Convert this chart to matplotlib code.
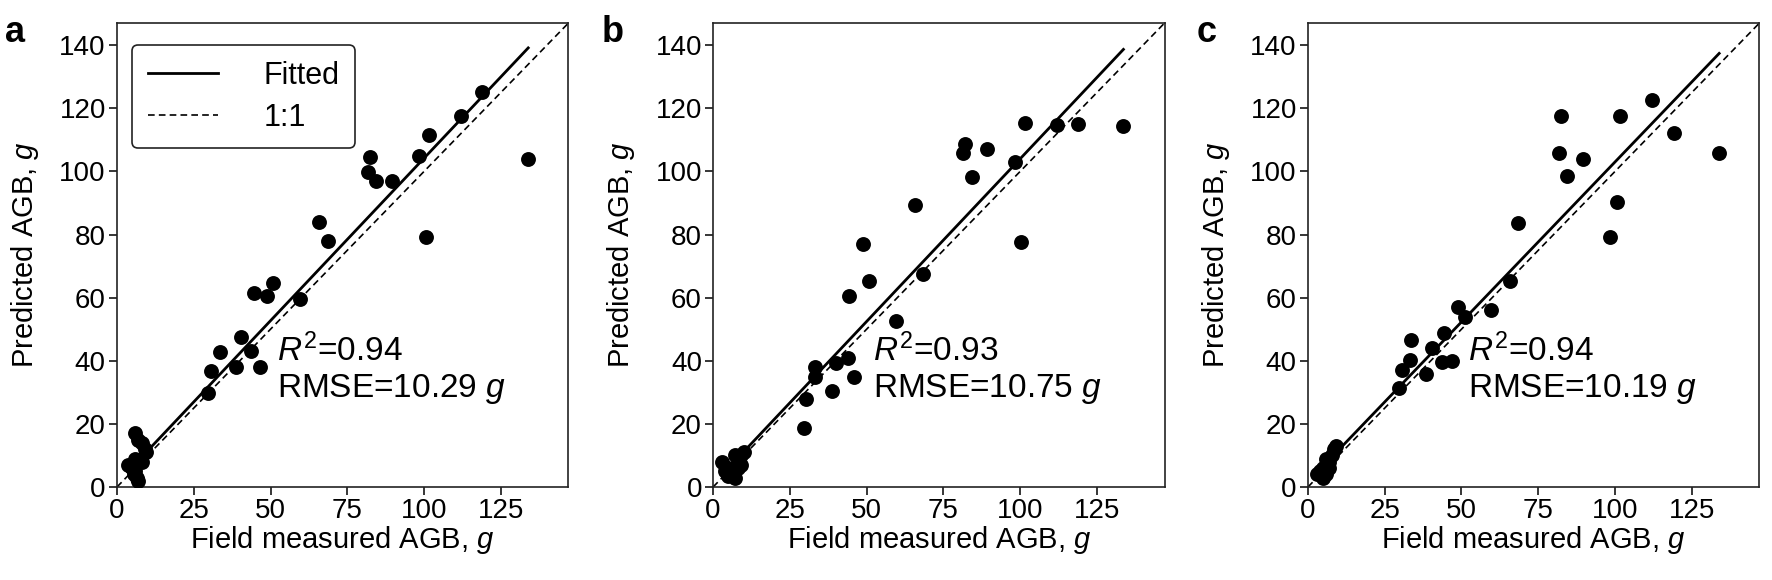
import numpy as np
import matplotlib
matplotlib.use("Agg")
import matplotlib.pyplot as plt

plt.rcParams['font.family'] = ['Liberation Sans', 'DejaVu Sans']
plt.rcParams['mathtext.fontset'] = 'custom'
plt.rcParams['mathtext.rm'] = 'Liberation Sans'
plt.rcParams['mathtext.it'] = 'Liberation Sans:italic'

# panel a
field_a = [119.0, 111.9, 101.7, 98.4, 82.4, 81.8, 84.3, 89.5, 65.9, 68.6, 100.6, 133.9,
           50.7, 44.7, 49.0, 59.6, 40.4, 33.5, 43.8, 30.5, 38.7, 46.5, 29.7,
           6.0, 7.0, 8.0, 9.0, 9.5, 3.5, 5.0, 6.0, 6.5, 7.0, 5.5, 6.0, 8.0]
pred_a = [125.2, 117.5, 111.5, 104.8, 104.4, 99.7, 97.0, 96.9, 84.0, 78.0, 79.3, 103.8,
          64.5, 61.6, 60.5, 59.6, 47.4, 42.9, 43.2, 36.8, 38.1, 38.1, 29.9,
          17.0, 15.0, 14.0, 12.0, 11.0, 7.0, 6.0, 5.0, 3.0, 2.0, 4.0, 9.0, 8.0]

# panel b
field_b = [101.6, 111.9, 118.9, 133.6, 82.0, 81.5, 89.3, 98.3, 84.2, 65.8, 48.7, 100.3,
           50.9, 68.5, 44.4, 59.5, 44.0, 40.0, 33.2, 33.2, 38.6, 46.0, 30.3, 29.7,
           3.0, 5.0, 6.0, 7.0, 8.0, 9.0, 10.0, 7.0, 8.0, 5.0, 4.0, 9.0]
pred_b = [115.2, 114.7, 115.0, 114.3, 108.6, 105.9, 107.0, 103.0, 98.3, 89.3, 77.0, 77.7,
          65.4, 67.5, 60.5, 52.6, 40.8, 39.4, 37.9, 34.7, 30.5, 34.9, 27.9, 18.8,
          8.0, 6.0, 4.0, 3.0, 6.0, 10.0, 11.0, 10.0, 8.0, 3.5, 5.0, 7.0]

# panel c
field_c = [82.3, 101.6, 111.9, 119.1, 81.8, 89.4, 84.2, 100.5, 98.3, 68.5, 133.9,
           65.8, 48.9, 51.1, 59.5, 44.4, 40.3, 33.5, 33.2, 30.5, 43.8, 46.8, 38.6, 29.7,
           3.0, 4.0, 5.0, 6.0, 7.0, 8.0, 8.5, 9.0, 6.0, 5.0, 7.0]
pred_c = [117.6, 117.6, 122.6, 112.2, 105.7, 103.8, 98.5, 90.2, 79.3, 83.5, 105.7,
          65.4, 56.9, 54.0, 56.1, 48.7, 44.2, 46.6, 40.4, 37.1, 39.7, 40.0, 35.8, 31.3,
          4.0, 5.0, 6.0, 4.0, 8.0, 10.0, 12.0, 13.0, 9.0, 3.0, 6.0]

# fitted line (slope, intercept)
fit_a = (1.03, 1.2)
fit_b = (1.031, 0.9)
fit_c = (1.014, 1.6)

r2_vals = ['0.94', '0.93', '0.94']
rmse_vals = ['10.29', '10.75', '10.19']
panel_letters = ['a', 'b', 'c']

x_ticks = [0, 25, 50, 75, 100, 125]
y_ticks = [0, 20, 40, 60, 80, 100, 120, 140]
lim = 147

fig = plt.figure(figsize=(17.72, 5.8), dpi=100)
lefts = [0.066, 0.4024, 0.7381]
panels = [(field_a, pred_a, fit_a), (field_b, pred_b, fit_b), (field_c, pred_c, fit_c)]

for i, (fx, py, fit) in enumerate(panels):
    ax = fig.add_axes([lefts[i], 0.1603, 0.2548, 0.8])
    ax.scatter(fx, py, s=115, color='black', zorder=3, linewidths=0)
    xs = np.array([min(fx), max(fx)])
    ax.plot(xs, fit[0] * xs + fit[1], color='black', lw=2.0, label='Fitted')
    ax.plot([0, lim], [0, lim], color='black', lw=1.2, ls=(0, (4, 2.5)), label='1:1')
    ax.set_xlim(0, lim)
    ax.set_ylim(0, lim)
    ax.set_xticks(x_ticks)
    ax.set_yticks(y_ticks)
    ax.tick_params(labelsize=20, length=6, width=1.1, direction='out', pad=2)
    for sp in ax.spines.values():
        sp.set_linewidth(1.2)
        sp.set_color('#222222')
    ax.set_xlabel('Field measured AGB, $g$', fontsize=21, labelpad=0)
    ax.set_ylabel('Predicted AGB, $g$', fontsize=21, labelpad=13)
    ax.text(52, 43, '$R^2$=' + r2_vals[i], fontsize=24, va='center')
    ax.text(52, 31, 'RMSE=' + rmse_vals[i] + ' $g$', fontsize=24, va='center')
    fig.text(lefts[i] - 0.063, 0.975, panel_letters[i], fontsize=26, fontweight='bold',
             va='top', ha='left')
    if i == 0:
        leg = ax.legend(loc='upper left', fontsize=22, handlelength=2.3, frameon=True,
                        fancybox=True, borderpad=0.5, labelspacing=0.4, handletextpad=1.5,
                        bbox_to_anchor=(0.0, 0.985))
        leg.get_frame().set_edgecolor('#222222')
        leg.get_frame().set_linewidth(1.2)
        leg.get_frame().set_alpha(1)

fig.savefig('out.png', dpi=100)
